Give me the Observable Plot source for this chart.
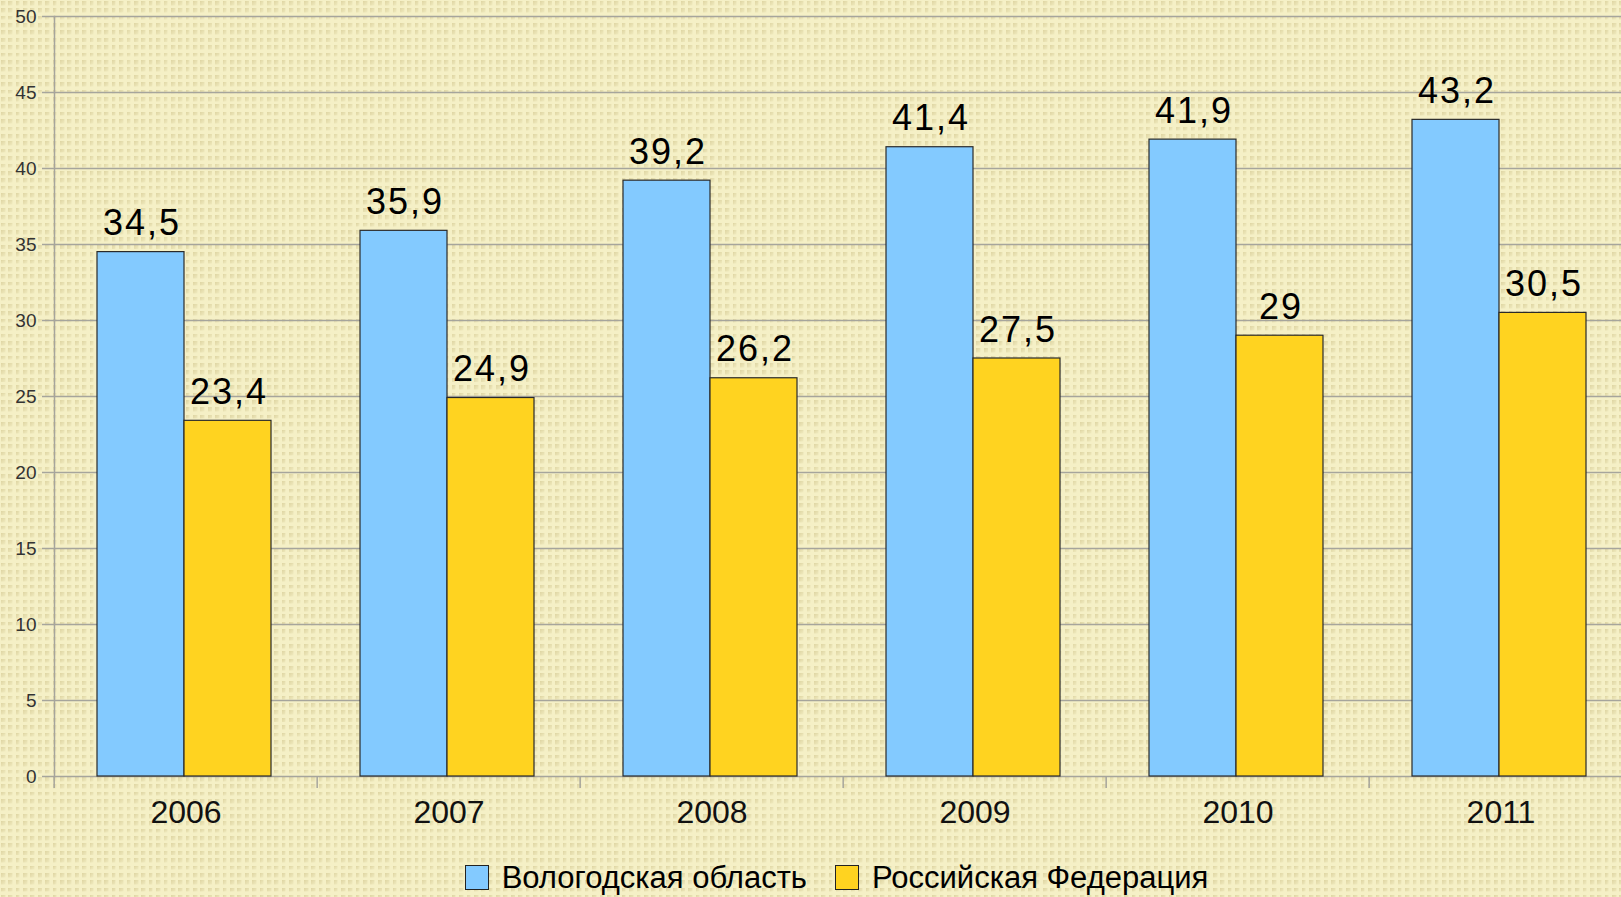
<!DOCTYPE html>
<html>
<head>
<meta charset="utf-8">
<script src="https://cdn.jsdelivr.net/npm/d3@7"></script>
<script src="https://cdn.jsdelivr.net/npm/@observablehq/plot@0.6"></script>
<style>
  html, body { margin: 0; padding: 0; }
  body {
    width: 1621px; height: 897px; overflow: hidden;
    background-color: #f5f0c6;
    background-image: url("data:image/svg+xml;utf8,<svg xmlns='http://www.w3.org/2000/svg' width='8' height='8'><defs><linearGradient id='g' x1='0' y1='0' x2='1' y2='1'><stop offset='0' stop-color='%23ded5a2'/><stop offset='1' stop-color='%23f1ebc0'/></linearGradient></defs><rect x='1' y='1' width='4.5' height='4.5' fill='url(%23g)'/></svg>");
    background-size: 7.4px 7.4px;
    font-family: "Liberation Sans", Arial, sans-serif;
  }
  #wrap { position: relative; width: 1621px; height: 897px; }
  #legend {
    position: absolute; left: 52px; right: 0; top: 862px;
    display: flex; justify-content: center; align-items: center;
    font-size: 31px; color: #000; line-height: 1;
  }
  .item { display: flex; align-items: center; margin: 0 14px; }
  .sw { width: 22px; height: 23px; border: 1px solid #222; margin-right: 13px; }
  .vlabels { letter-spacing: 2px; }
</style>
</head>
<body>
<div id="wrap">
  <div id="chart"></div>
  <div id="legend"></div>
</div>
<script>
const years = ["2006", "2007", "2008", "2009", "2010", "2011"];
const seriesNames = ["Вологодская область", "Российская Федерация"];
const vologda = [34.5, 35.9, 39.2, 41.4, 41.9, 43.2];
const russia = [23.4, 24.9, 26.2, 27.5, 29, 30.5];
const seriesColors = ["#83caff", "#ffd320"];
const yTicks = [0, 5, 10, 15, 20, 25, 30, 35, 40, 45, 50];

const table = [];
years.forEach((yr, i) => {
  table.push({year: yr, series: seriesNames[0], value: vologda[i]});
  table.push({year: yr, series: seriesNames[1], value: russia[i]});
});

const W = 1621, H = 845;
const fxRange = [52, 1634];
const bw = (fxRange[1] - fxRange[0]) / years.length;
const gridColor = "#a6a59c";
const fmt = v => String(v).replace(".", ",");

const chart = Plot.plot({
  width: W,
  height: H,
  marginTop: 16,
  marginBottom: 69,
  marginLeft: 52,
  marginRight: 0,
  style: {background: "transparent", overflow: "visible", fontFamily: "'Liberation Sans', Arial, sans-serif"},
  facet: {marginTop: 0, marginBottom: 0, marginLeft: 0, marginRight: 0},
  fx: {domain: years, range: fxRange, paddingInner: 0, paddingOuter: 0, axis: null},
  x: {domain: seriesNames, paddingInner: 0, paddingOuter: 0.508, align: 0.478, axis: null},
  y: {domain: [0, 50], axis: null},
  color: {domain: seriesNames, range: seriesColors},
  marks: [
    Plot.ruleY(yTicks, {stroke: gridColor, strokeWidth: 1.5}),
    Plot.frame({anchor: "left", facetAnchor: "left", stroke: gridColor, strokeWidth: 1.5}),
    Plot.axisY({ticks: yTicks, tickSize: 12, tickPadding: 6, fontSize: 19, fill: "#333", stroke: gridColor, strokeWidth: 1.5, label: null}),
    Plot.axisFx({anchor: "bottom", tickSize: 12, dx: -bw / 2, tickFormat: () => "", stroke: gridColor, strokeWidth: 1.5, label: null}),
    Plot.axisFx({anchor: "bottom", tickSize: 0, tickPadding: 24, fontSize: 32, fill: "#111", label: null}),
    Plot.barY(table, {fx: "year", x: "series", y: "value", fill: "series", stroke: "#2a2a2a", strokeWidth: 1.2}),
    Plot.text(table, {fx: "year", x: "series", y: "value", text: d => fmt(d.value), lineAnchor: "bottom", dy: -17, dx: 1, fontSize: 36, fill: "#000", className: "vlabels"})
  ]
});
document.getElementById("chart").appendChild(chart);

const legend = document.getElementById("legend");
seriesNames.forEach((name, i) => {
  const item = document.createElement("div");
  item.className = "item";
  const sw = document.createElement("div");
  sw.className = "sw";
  sw.style.background = seriesColors[i];
  const label = document.createElement("span");
  label.textContent = name;
  item.appendChild(sw);
  item.appendChild(label);
  legend.appendChild(item);
});
</script>
</body>
</html>
